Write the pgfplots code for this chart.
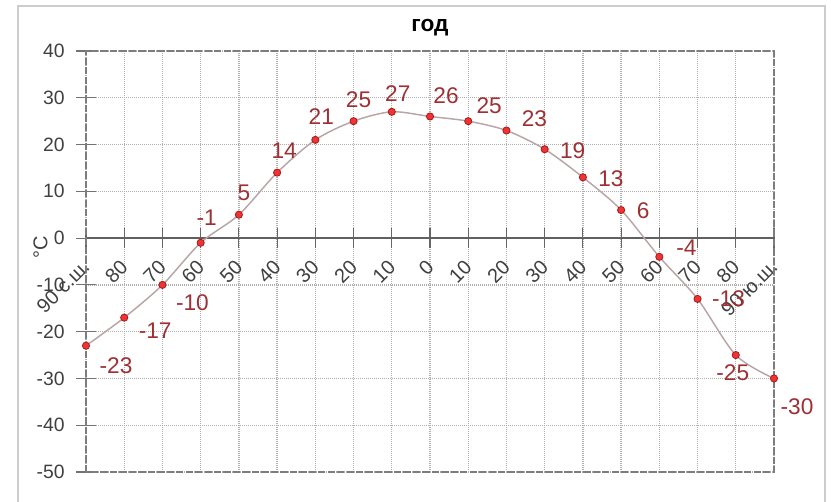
\documentclass[border=0pt]{standalone}
\usepackage{pgfplots}
\pgfplotsset{compat=1.18}
\usepackage{pgfplotstable}
\usepackage{fontspec}
\setmainfont{Liberation Sans}
\definecolor{lblred}{RGB}{158,48,52}
\definecolor{mkfill}{RGB}{238,52,52}
\definecolor{mkdraw}{RGB}{170,25,25}
\definecolor{curve}{RGB}{185,165,165}
\definecolor{gridc}{RGB}{175,175,175}
\definecolor{framec}{RGB}{125,125,125}
\definecolor{tickc}{RGB}{64,64,64}
\pgfplotstableread{
x y dx dy
0 -23 30 -20
1 -17 31 -13
2 -10 30 -18
3 -1 6 25
4 5 5 22
5 14 7 22
6 21 6 23
7 25 5 21
8 27 6 18
9 26 16 21
10 25 21 15
11 23 28 12
12 19 28 -1
13 13 28 -1
14 6 22 -1
15 -4 27 9
16 -13 31 0
17 -25 -3 -18
18 -30 23 -28
}\temps
\begin{document}
\begin{tikzpicture}
\useasboundingbox (0,0) rectangle (623.25pt,376.5pt);
\draw[color=gray!40, line width=0.8pt] (13.5pt,-10pt) rectangle (618.75pt,372pt);
\begin{axis}[
  at={(64.5pt,22.5pt)}, anchor=south west,
  scale only axis, width=516pt, height=315.75pt,
  xmin=0, xmax=18, ymin=-50, ymax=40,
  clip=false,
  axis x line=middle, axis y line=left,
  hide obscured x ticks=false,
  hide obscured y ticks=false,
  axis line style={-},
  x axis line style={draw=gray!75!black, line width=1.4pt},
  y axis line style={draw=none},
  xtick={0,...,18},
  xticklabels={90 с.ш.,80,70,60,50,40,30,20,10,0,10,20,30,40,50,60,70,80,90 ю.ш.},
  ytick={-50,-40,...,40},
  /pgf/number format/assume math mode=true,
  tick align=center,
  major tick length=15pt,
  tick style={draw=gray!80!black, line width=0.9pt},
  y tick style={draw=gray!90!black, line width=0.9pt},
  grid=major,
  major grid style={draw=gridc, line width=1pt, dash pattern=on 0.75pt off 0.75pt},
  yticklabel style={font=\fontsize{14.5}{14.5}\selectfont, text=tickc, xshift=-5pt},
  xticklabel style={font=\fontsize{15}{15}\selectfont, text=tickc, yshift=-9pt, xshift=2.5pt, rotate=45, anchor=east},
  ylabel={°C},
  ylabel style={font=\fontsize{15}{15}\selectfont, text=tickc, at={(axis description cs:-0.066,0.534)}, anchor=center},
  title={год},
  title style={font=\bfseries\fontsize{17}{17}\selectfont, at={(axis description cs:0.5,1)}, anchor=center, yshift=11.5pt},
]
\addplot[smooth, color=curve, line width=1.1pt, mark=*, mark size=2.7pt,
  mark options={fill=mkfill, draw=mkdraw, line width=0.6pt},
  point meta=y,
  visualization depends on={\thisrow{dx} \as \dx},
  visualization depends on={\thisrow{dy} \as \dy},
  nodes near coords={\pgfmathprintnumber[assume math mode=true]{\pgfplotspointmeta}},
  nodes near coords style={anchor=center, text=lblred, font=\fontsize{17}{17}\selectfont, xshift={\dx*0.75pt}, yshift={\dy*0.75pt}},
] table[x=x, y=y] {\temps};
\draw[framec, line width=2.2pt, dash pattern=on 5.5pt off 1.6pt] (rel axis cs:0,0) rectangle (rel axis cs:1,1);
\end{axis}
\end{tikzpicture}
\end{document}
